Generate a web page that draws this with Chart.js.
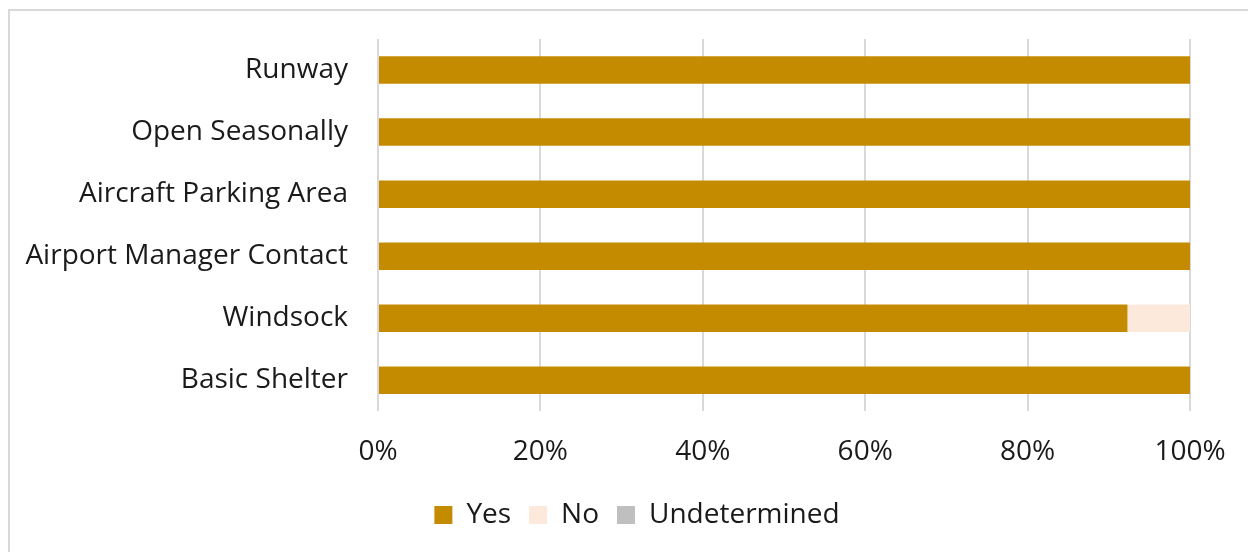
<!DOCTYPE html>
<html><head><meta charset="utf-8">
<script src="https://cdn.jsdelivr.net/npm/chart.js@4"></script>
<style>
html,body{margin:0;padding:0;background:#fff;}
#frame{position:absolute;left:8px;top:9px;width:1260px;height:560px;border:2px solid #d9d9d9;box-sizing:border-box;}
#c{position:absolute;left:0;top:0;}
</style></head><body>
<div id="frame"></div>
<canvas id="c" width="1248" height="552"></canvas>
<script>
const categories = ["Runway","Open Seasonally","Aircraft Parking Area","Airport Manager Contact","Windsock","Basic Shelter"];
const yesValues = [100,100,100,100,92.3,100];
const noValues = [0,0,0,0,7.7,0];
const undeterminedValues = [0,0,0,0,0,0];
const xTicks = [0,20,40,60,80,100];
const FONT = "Open Sans";
const legendShift = {
  id:'legendShift',
  afterLayout(chart){ const l=chart.legend; if(l){ l.left+=42; l.right+=42; l.top-=10; l.bottom-=10; } }
};
new Chart(document.getElementById('c'),{
  type:'bar',
  data:{labels:categories,datasets:[
    {label:'Yes',data:yesValues,backgroundColor:'#C58B00'},
    {label:'No',data:noValues,backgroundColor:'#FCE9DB'},
    {label:'Undetermined',data:undeterminedValues,backgroundColor:'#BFBFBF'}
  ]},
  plugins:[legendShift],
  options:{
    indexAxis:'y',responsive:false,animation:false,
    datasets:{bar:{categoryPercentage:0.443,barPercentage:1}},
    layout:{padding:{top:39,right:58,left:0,bottom:3}},
    plugins:{legend:{position:'bottom',labels:{font:{family:FONT,size:28,lineHeight:1},color:'#1a1a1a',boxWidth:18,boxHeight:18,padding:18}},tooltip:{enabled:false}},
    scales:{
      x:{stacked:true,min:0,max:100,
        afterBuildTicks:(s)=>{s.ticks=xTicks.map(v=>({value:v}));},
        afterFit:(s)=>{s.paddingRight=0;},
        ticks:{callback:v=>v+'%',font:{family:FONT,size:28},color:'#1a1a1a',padding:24},
        grid:{color:'#d9d9d9',lineWidth:2,drawTicks:false},border:{display:false}},
      y:{stacked:true,
        afterFit:(s)=>{s.width=378;},
        ticks:{font:{family:FONT,size:28},color:'#1a1a1a',padding:0},
        grid:{display:true,drawTicks:true,tickLength:30,color:'rgba(0,0,0,0)',lineWidth:0,drawOnChartArea:false},border:{display:false}}
    }
  }
});
</script></body></html>
